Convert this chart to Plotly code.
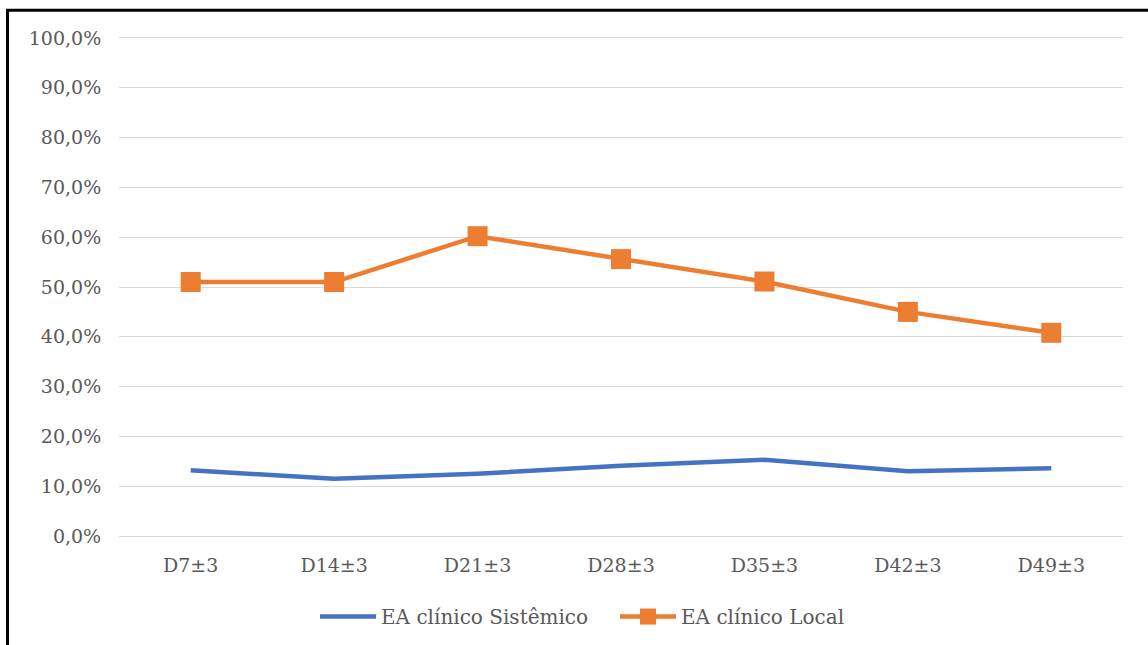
import plotly.graph_objects as go

# Follow-up visits and adverse-event rates (fraction of participants)
visits = ["D7±3", "D14±3", "D21±3", "D28±3", "D35±3", "D42±3", "D49±3"]
sistemico = [0.132, 0.115, 0.125, 0.141, 0.153, 0.130, 0.136]
local = [0.510, 0.510, 0.602, 0.556, 0.511, 0.450, 0.408]
y_ticks = [0, 0.1, 0.2, 0.3, 0.4, 0.5, 0.6, 0.7, 0.8, 0.9, 1.0]
y_tick_text = ["0,0%", "10,0%", "20,0%", "30,0%", "40,0%", "50,0%",
               "60,0%", "70,0%", "80,0%", "90,0%", "100,0%"]

W, H = 1148, 645
Y_PAD = 0.02                 # headroom so the 0% and 100% grid lines are drawn
Y0_PX, Y1_PX = 536.5, 38.3   # pixel rows of 0% and 100%
UNIT = Y0_PX - Y1_PX
ML, MR = 119, 25
MT = Y1_PX - Y_PAD * UNIT
MB = H - (Y0_PX + Y_PAD * UNIT)
PW = W - ML - MR
PH = H - MT - MB

def px_x(px):
    return (px - ML) / PW

def px_y(py):
    return (H - MB - py) / PH

FONT = "DejaVu Serif"
GREY = "#595959"

fig = go.Figure()
fig.add_trace(go.Scatter(
    x=visits, y=sistemico, name="EA clínico Sistêmico", mode="lines",
    line=dict(color="#4472C4", width=4.5),
))
fig.add_trace(go.Scatter(
    x=visits, y=local, name="EA clínico Local", mode="lines+markers",
    line=dict(color="#ED7D31", width=4.5),
    marker=dict(symbol="square", size=20, color="#ED7D31"),
))

# Outer frame (left and top edges)
frame = dict(color="black", width=3)
fig.add_shape(type="line", xref="paper", yref="paper",
              x0=px_x(7.5), x1=px_x(7.5), y0=px_y(9.5), y1=px_y(H + 5), line=frame)
fig.add_shape(type="line", xref="paper", yref="paper",
              x0=px_x(6), x1=px_x(W + 5), y0=px_y(10.5), y1=px_y(10.5), line=frame)

fig.update_layout(
    width=W, height=H,
    margin=dict(l=ML, r=MR, t=MT, b=MB, pad=0, autoexpand=False),
    paper_bgcolor="white", plot_bgcolor="white",
    font=dict(family=FONT, size=19, color=GREY),
    showlegend=True,
    legend=dict(orientation="h", x=px_x(315), xanchor="left",
                y=px_y(617), yanchor="middle",
                font=dict(family=FONT, size=20, color=GREY),
                itemwidth=56, entrywidth=229, traceorder="normal"),
    xaxis=dict(range=[-0.5, 6.5], showgrid=False, showline=False, zeroline=False,
               ticks="outside", ticklen=2, tickcolor="rgba(0,0,0,0)",
               tickfont=dict(family=FONT, size=19, color=GREY)),
    yaxis=dict(range=[-Y_PAD, 1 + Y_PAD], tickvals=y_ticks, ticktext=y_tick_text,
               showgrid=True, gridcolor="#D9D9D9", gridwidth=1,
               zeroline=False, showline=False,
               ticks="outside", ticklen=13, tickcolor="rgba(0,0,0,0)",
               tickfont=dict(family=FONT, size=19, color=GREY)),
)

fig.write_html("out.html")
